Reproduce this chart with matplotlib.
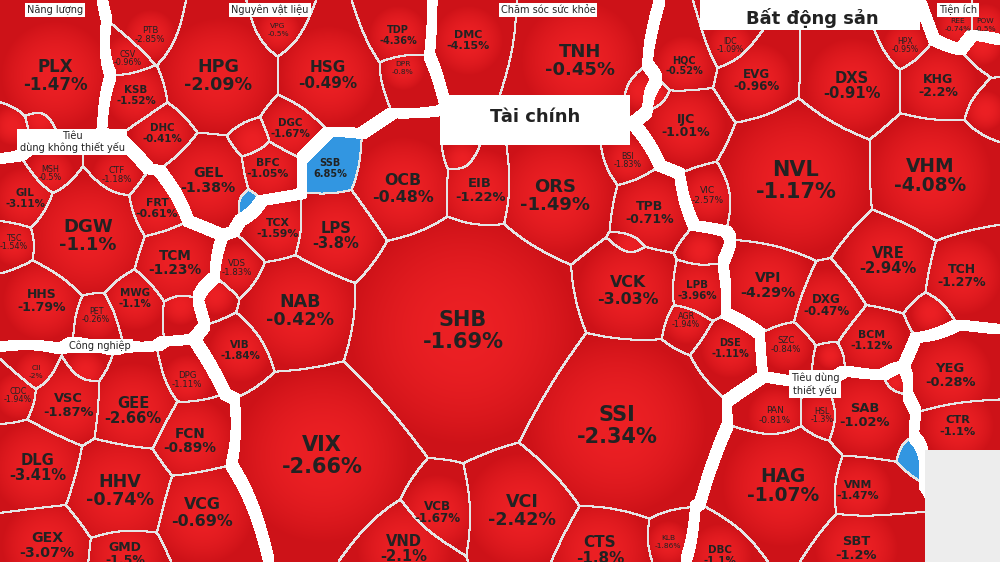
import numpy as np
import matplotlib
matplotlib.use("Agg")
import matplotlib.pyplot as plt

# ticker, % change, sector
tickers = ["PLX", "NL1", "NL2",
           "HPG", "HSG", "PTB", "CSV", "KSB", "DHC", "GEL", "BFC", "DGC", "TDP", "VPG", "DPR", "TSC2", "NV1",
           "DMC", "TNH", "YT1",
           "HQC", "EVG", "DXS", "KHG", "IJC", "NVL", "VHM", "VIC", "VPI", "DXG", "VRE", "TCH", "BCM", "SZC",
           "AGG", "IDC", "HPX", "DIG", "BD1", "BD2", "YB1",
           "REE", "POW",
           "SSB", "OCB", "EIB", "ORS", "TPB", "BSI", "TCX", "LPS", "VDS", "NAB", "SHB", "VCK", "LPB", "AGR",
           "DSE", "VIB", "SSI", "VIX", "VCB", "VCI", "VND", "CTS", "KLB", "FTS", "TC1", "TC2", "TC3",
           "GIL", "MSH", "CTF", "DGW", "FRT", "TSC", "HHS", "TCM", "MWG", "PET", "VYS",
           "CDC", "CII", "VSC", "PAC", "GEE", "DPG", "FCN", "DLG", "HHV", "VCG", "GEX", "GMD",
           "PAN", "HSL", "SAB", "HAG", "VNM", "SBT", "DBC", "BAF", "SBT2",
           "YEG", "CTR"]
changes = [-1.47, -0.9, -1.2,
           -2.09, -0.49, -2.85, -0.96, -1.52, -0.41, -1.38, -1.05, -1.67, -4.36, -0.5, -0.8, -1.0, 0.5,
           -4.15, -0.45, -1.0,
           -0.52, -0.96, -0.91, -2.2, -1.01, -1.17, -4.08, -2.57, -4.29, -0.47, -2.94, -1.27, -1.12, -0.84,
           -0.5, -1.09, -0.95, -0.98, -1.0, -0.6, -1.2,
           -0.74, -0.5,
           6.85, -0.48, -1.22, -1.49, -0.71, -1.83, -1.59, -3.8, -1.83, -0.42, -1.69, -3.03, -3.96, -1.94,
           -1.11, -1.84, -2.34, -2.66, -1.67, -2.42, -2.1, -1.8, -1.86, -1.0, -0.9, -1.4, -1.1,
           -3.11, -0.5, -1.18, -1.1, -0.61, -1.54, -1.79, -1.23, -1.1, -0.26, -1.0,
           -1.94, -2.0, -1.87, -1.5, -2.66, -1.11, -0.89, -3.41, -0.74, -0.69, -3.07, -1.5,
           -0.81, -1.3, -1.02, -1.07, -1.47, -1.2, -1.1, 1.2, -1.19,
           -0.28, -1.1]
sectors = ["E"] * 3 + ["M"] * 14 + ["H"] * 3 + ["R"] * 21 + ["U"] * 2 + ["F"] * 27 + ["C"] * 11 + \
          ["I"] * 12 + ["S"] * 9 + ["T"] * 2

# layout seeds (pixel coords) and weights
cx = [55, 12, 40,
      218, 328, 150, 128, 136, 162, 208, 268, 290, 398, 278, 403, 252, 246,
      468, 580, 640,
      684, 756, 852, 938, 686, 796, 930, 708, 768, 826, 888, 962, 872, 786,
      930, 730, 905, 982, 655, 985, 830,
      958, 985,
      330, 403, 480, 555, 650, 628, 278, 336, 237, 300, 463, 628, 697, 686,
      730, 240, 617, 322, 437, 522, 404, 600, 668, 215, 462, 630, 700,
      25, 50, 117, 88, 157, 14, 42, 175, 135, 96, 180,
      18, 36, 68, 85, 133, 187, 190, 38, 120, 202, 47, 125,
      775, 822, 865, 783, 858, 856, 720, 910, 895,
      950, 958]
cy = [75, 125, 118,
      75, 75, 35, 58, 95, 133, 180, 168, 128, 35, 30, 68, 140, 200,
      40, 60, 90,
      65, 80, 85, 85, 125, 180, 175, 195, 285, 305, 260, 275, 340, 345,
      312, 45, 45, 45, 95, 110, 355,
      25, 25,
      168, 188, 190, 195, 212, 160, 228, 235, 268, 310, 330, 290, 290, 320,
      348, 350, 425, 455, 512, 510, 548, 550, 542, 295, 160, 245, 250,
      198, 173, 175, 235, 208, 242, 300, 262, 298, 315, 305,
      395, 372, 405, 370, 410, 380, 440, 467, 490, 512, 545, 553,
      415, 415, 415, 485, 490, 548, 555, 450, 382,
      375, 425]
radius = [35, 0, 0,
          38, 30, 6, 4, 12, 12, 26, 14, 12, 10, 2, 2, 4, -4,
          15, 40, 0,
          10, 18, 28, 20, 20, 55, 42, 8, 26, 18, 28, 20, 14, 6,
          0, 3, 3, 0, -4, 0, -6,
          2, 2,
          10, 32, 22, 40, 20, 4, 14, 28, 6, 38, 95, 32, 12, 4,
          10, 12, 70, 68, 18, 38, 28, 30, 2, 0, 0, 0, 0,
          12, 4, 6, 40, 14, 4, 20, 24, 12, 4, 0,
          4, 2, 22, 0, 28, 6, 24, 28, 38, 32, 26, 20,
          8, 4, 22, 42, 14, 22, 12, -16, -8,
          22, 16]

sector_titles = [("Năng lượng", 55, 10), ("Nguyên vật liệu", 270, 10), ("Chăm sóc sức khỏe", 548, 10),
                 ("Tiện ích", 958, 10), ("Tiêu\ndùng không thiết yếu", 72, 142),
                 ("Công nghiệp", 100, 346), ("Tiêu dùng\nthiết yếu", 815, 384)]

W, H = 1000, 562
yy, xx = np.mgrid[0:H, 0:W].astype(np.float32)
best = np.full((H, W), 1e9, np.float32)
lab = np.zeros((H, W), np.int32)
for i in range(len(tickers)):
    d = np.sqrt((xx - cx[i]) ** 2 + (yy - cy[i]) ** 2) - radius[i]
    m = d < best
    best[m] = d[m]
    lab[m] = i

sec_ids = {s: k for k, s in enumerate(dict.fromkeys(sectors))}
slab = np.array([sec_ids[s] for s in sectors])[lab]


def edges(a, w):
    p = np.pad(a, w, mode="edge")
    e = np.zeros(a.shape, bool)
    for dx in range(-w, w + 1):
        for dy in range(-w, w + 1):
            e |= a != p[w + dy:w + dy + H, w + dx:w + dx + W]
    return e


cell_edge = edges(lab, 1)
sec_edge = edges(slab, 5)

red = np.array([236, 32, 36]) / 255
dark = np.array([205, 18, 24]) / 255
blue = np.array([50, 150, 225]) / 255
pos = np.array([c > 0 for c in changes])[lab]
from_center = np.sqrt((xx - np.array(cx)[lab]) ** 2 + (yy - np.array(cy)[lab]) ** 2)
scale = np.maximum(np.array(radius)[lab] + 20, 10)
t = np.clip(from_center / scale, 0, 1)[..., None] ** 2
img = red * (1 - t) + dark * t
img[pos] = blue
img[cell_edge] = [0.9, 0.9, 0.9]
img[sec_edge] = 1.0
img[95:145, 440:630] = 1.0
img[0:30, 700:920] = 1.0
img[450:562, 925:1000] = 0.93

fig = plt.figure(figsize=(10, 5.62), dpi=100)
ax = fig.add_axes([0, 0, 1, 1])
ax.imshow(img, extent=(0, W, H, 0), interpolation="nearest")
ax.set_xlim(0, W)
ax.set_ylim(H, 0)
ax.axis("off")

for i, name in enumerate(tickers):
    r = radius[i]
    if r < 2 or not name.isalpha():
        continue
    fs = max(4, min(15, 5 + r * 0.2))
    ax.text(cx[i], cy[i] - fs * 0.65, name, ha="center", va="center", fontsize=fs,
            fontweight="bold" if r > 8 else "normal", color="#222")
    ax.text(cx[i], cy[i] + fs * 0.8, f"{changes[i]:g}%", ha="center", va="center",
            fontsize=fs, fontweight="bold" if r > 8 else "normal", color="#222")

for txt, x, y in sector_titles:
    ax.text(x, y, txt, ha="center", va="center", fontsize=7, color="#222",
            bbox=dict(facecolor="white", edgecolor="none", pad=1.5))
ax.text(535, 117, "Tài chính", ha="center", va="center", fontsize=13, fontweight="bold", color="#222")
ax.text(812, 18, "Bất động sản", ha="center", va="center", fontsize=13, fontweight="bold", color="#222")

fig.savefig("out.png", dpi=100)
